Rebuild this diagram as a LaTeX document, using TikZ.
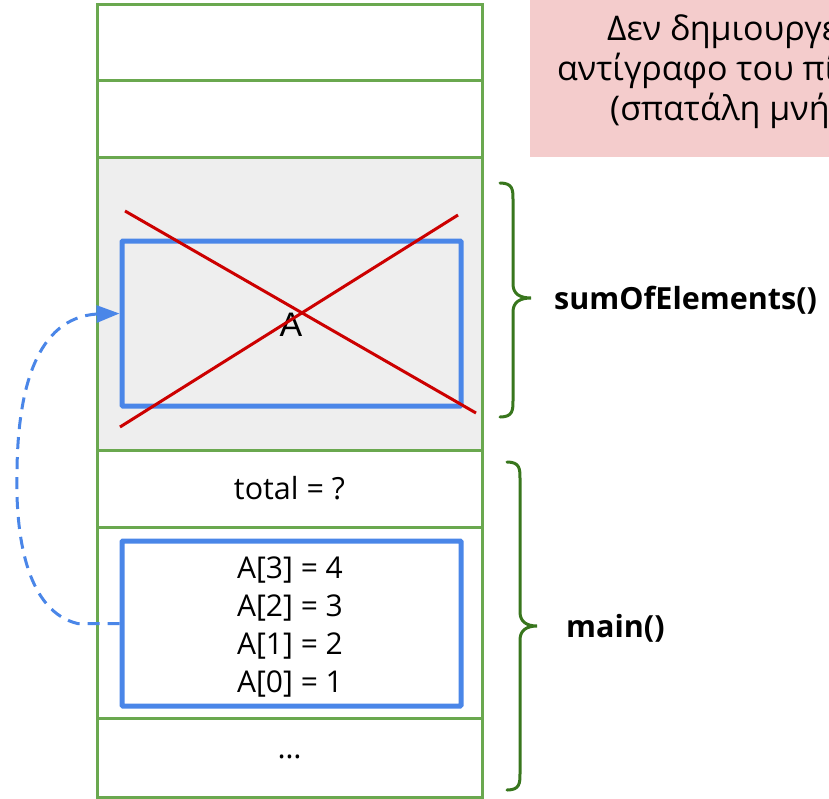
\documentclass[tikz,border=0pt]{standalone}
\usepackage{fontspec}
\setmainfont{Open Sans}
\newfontfamily\arialfont{Liberation Sans}
\usetikzlibrary{arrows.meta,calc}
\definecolor{stackgreen}{HTML}{6AA84F}
\definecolor{bracegreen}{HTML}{38761D}
\definecolor{ptrblue}{HTML}{4A86E8}
\definecolor{crossred}{HTML}{CC0000}
\definecolor{framegray}{HTML}{EEEEEE}
\definecolor{notepink}{HTML}{F4CCCC}
\begin{document}
\begin{tikzpicture}[x=1pt,y=-1pt,
  cell/.style={draw=stackgreen,line width=3pt,minimum width=385pt,inner sep=0pt,
    font=\fontsize{30.5}{36}\selectfont},
  arrbox/.style={draw=ptrblue,line width=5pt,rounded corners=1pt,
    minimum width=339pt,minimum height=165pt,inner sep=0pt},
  crossline/.style={draw=crossred,line width=3pt},
  bracepath/.style={draw=bracegreen,line width=3pt,line cap=round},
  framelabel/.style={anchor=west,inner sep=0pt,font=\fontsize{30.5}{36}\selectfont\bfseries},
  notetext/.style={anchor=base west,inner sep=0pt,font=\fontsize{34}{40}\selectfont},
  ptr/.style={draw=ptrblue,line width=3pt,dash pattern=on 12pt off 8pt,
    -{Triangle[length=23pt,width=17pt]}}
]
\useasboundingbox (0,0) rectangle (829,798);
\clip (0,0) rectangle (829,798);

% note box at the top right
\node[fill=notepink,minimum width=330pt,minimum height=157pt,inner sep=0pt,anchor=north west]
  (note) at (530,0) {};
\node[notetext] (n1) at (607,40) {Δεν δημιουργείται};
\node[notetext] (n2) at (557,80) {αντίγραφο του πίνακα};
\node[notetext] (n3) at (610,120) {(σπατάλη μνήμης)};

% stack cells, top to bottom
\node[cell,minimum height=76pt] (r1) at (289.5,42) {};
\node[cell,minimum height=77pt] (r2) at (289.5,118.5) {};
\node[cell,minimum height=293pt,fill=framegray] (frame) at (289.5,303.5) {};
\node[cell,minimum height=77pt] (total) at (289.5,488.5) {total = ?};
\node[cell,minimum height=79pt] (dots) at (289.5,757.5) {\raisebox{2pt}{…}};
\node[cell,minimum height=191pt] (arr) at (289.5,622.5) {};

% parameter A inside the sumOfElements() frame
\node[arrbox] (abox) at (291.5,323.5) {};
\node[inner sep=0pt,font=\arialfont\fontsize{34}{40}\selectfont] (alabel) at (291,325) {A};
\draw[crossline] (125,211) -- (476,413);
\draw[crossline] (120,427) -- (458,215);

% array A inside main()
\node[arrbox] (abox2) at (291.5,623.5) {};
\node[align=center,inner sep=0pt,font=\fontsize{30}{37.7}\selectfont] (vals) at (290,627)
  {A[3] = 4\\A[2] = 3\\A[1] = 2\\A[0] = 1};

% pointer from the parameter to the array
\coordinate (tip) at ($(abox.west)+(0,-10)$);
\draw[ptr] (abox2.west) -- ++(-42,0)
  .. controls (30,612) and (15,545) .. (17,470)
  .. controls (18,390) and (36,318) .. (97,314) -- (tip);

% braces and frame names
\draw[bracepath] (500,183) .. controls (513,183) and (513,190) .. (513,200) -- (513,284)
  .. controls (513,294) and (520,298) .. (531,298)
  .. controls (520,298) and (513,302) .. (513,312) -- (513,400)
  .. controls (513,410) and (513,417) .. (500,417);
\node[framelabel] (lsum) at (554,300) {sumOfElements()};

\draw[bracepath] (507,462) .. controls (520,462) and (520,469) .. (520,479) -- (520,612)
  .. controls (520,622) and (527,626) .. (537,626)
  .. controls (527,626) and (520,630) .. (520,640) -- (520,773)
  .. controls (520,783) and (520,790) .. (507,790);
\node[framelabel] (lmain) at (566,628) {main()};
\end{tikzpicture}
\end{document}
